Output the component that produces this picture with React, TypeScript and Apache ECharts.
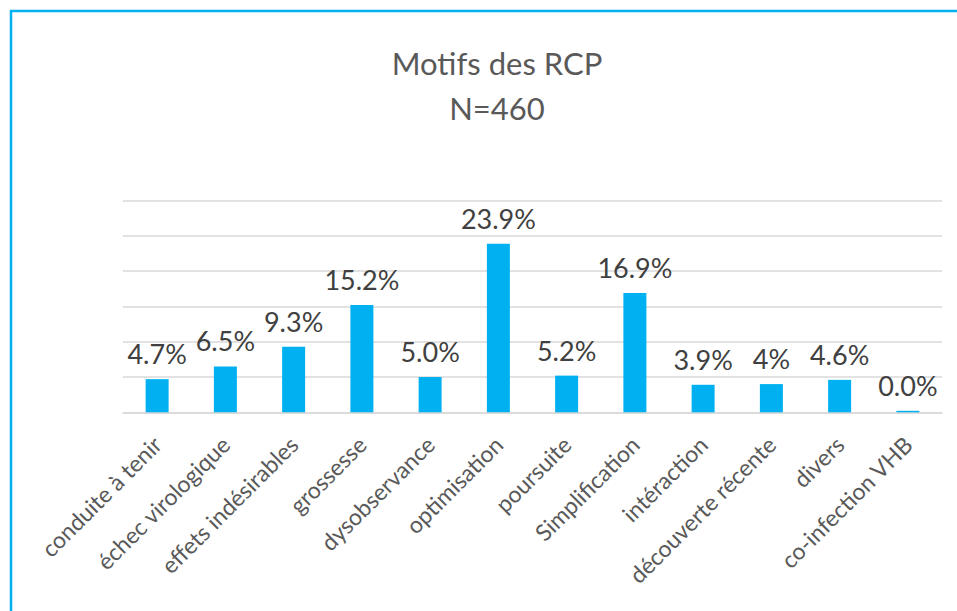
import React, { useEffect, useRef } from "react";
import * as echarts from "echarts";

const categories = [
  "conduite à tenir",
  "échec virologique",
  "effets indésirables",
  "grossesse",
  "dysobservance",
  "optimisation",
  "poursuite",
  "Simplification",
  "intéraction",
  "découverte récente",
  "divers",
  "co-infection VHB",
];
const values = [4.7, 6.5, 9.3, 15.2, 5.0, 23.9, 5.2, 16.9, 3.9, 4.0, 4.6, 0.0];
const labelTexts = ["4.7%", "6.5%", "9.3%", "15.2%", "5.0%", "23.9%", "5.2%", "16.9%", "3.9%", "4%", "4.6%", "0.0%"];
const titleLines = ["Motifs des RCP", "N=460"];

export default function App() {
  const ref = useRef<HTMLDivElement>(null);
  useEffect(() => {
    if (!ref.current) return;
    const chart = echarts.init(ref.current, null, { renderer: "svg" });
    chart.setOption({
      animation: false,
      backgroundColor: "#ffffff",
      title: {
        text: titleLines.join("\n"),
        left: 492,
        top: 35,
        textAlign: "center",
        textStyle: {
          fontFamily: "Lato",
          fontSize: 31,
          fontWeight: "normal",
          color: "#595959",
          lineHeight: 45,
        },
      },
      graphic: [
        {
          type: "polyline",
          shape: { points: [[11, 640], [11, 11], [960, 11]] },
          style: { stroke: "#00B0F0", lineWidth: 2.5, fill: "none" },
          silent: true,
        },
      ],
      grid: { left: 123, right: 15, top: 200.7, bottom: 198.7, containLabel: false },
      xAxis: {
        type: "category",
        data: categories,
        axisLine: { show: true, lineStyle: { color: "#d9d9d9", width: 1.5 } },
        axisTick: { show: false },
        axisLabel: {
          interval: 0,
          rotate: 45,
          margin: 28,
          fontFamily: "Lato",
          fontSize: 23,
          fontWeight: "normal",
          color: "#595959",
        },
      },
      yAxis: {
        type: "value",
        min: 0,
        max: 30,
        interval: 5,
        axisLabel: { show: false },
        axisLine: { show: false },
        axisTick: { show: false },
        splitLine: { show: true, lineStyle: { color: "#d9d9d9", width: 1.5 } },
      },
      series: [
        {
          type: "bar",
          data: values,
          barWidth: 23,
          barMinHeight: 1.5,
          itemStyle: { color: "#00B0F0" },
          label: {
            show: true,
            position: "top",
            distance: 12,
            fontFamily: "Lato",
            fontSize: 27,
            fontWeight: "normal",
            color: "#404040",
            formatter: (p: any) => labelTexts[p.dataIndex],
          },
        },
      ],
    });
    return () => chart.dispose();
  }, []);
  return (
    <div
      ref={ref}
      style={{ position: "absolute", left: 0, top: 0, width: 957, height: 611 }}
    />
  );
}
